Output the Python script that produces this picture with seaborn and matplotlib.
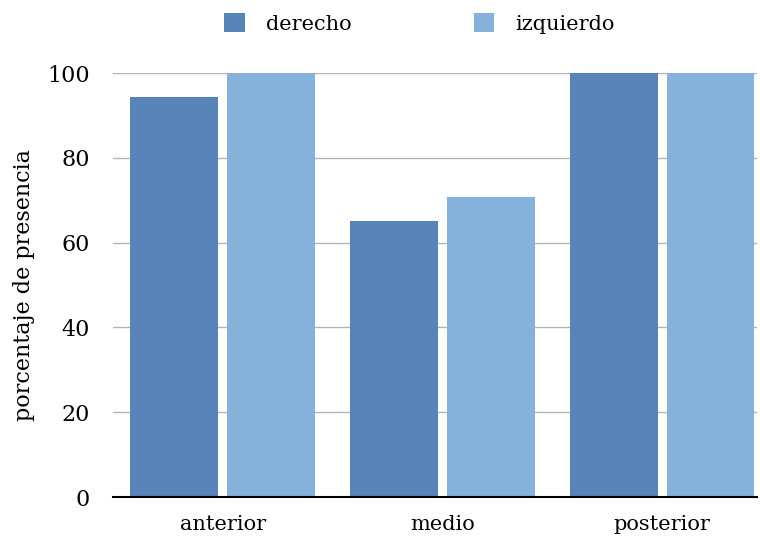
import matplotlib
matplotlib.use("Agg")
import matplotlib.pyplot as plt
from matplotlib.patches import Patch
import seaborn as sns
import pandas as pd

categories = ["anterior", "medio", "posterior"]
derecho = [94.4, 65.1, 100.0]
izquierdo = [100.0, 70.8, 100.0]
series_names = ["derecho", "izquierdo"]
colors = ["#5884BA", "#85B1DA"]
y_ticks = [0, 20, 40, 60, 80, 100]

df = pd.DataFrame({
    "zona": categories * 2,
    "lado": [series_names[0]] * 3 + [series_names[1]] * 3,
    "valor": derecho + izquierdo,
})

sns.set_theme(style="white")
plt.rcParams["font.family"] = ["DejaVu Serif"]
plt.rcParams["text.color"] = "black"
plt.rcParams["axes.labelcolor"] = "black"
plt.rcParams["xtick.color"] = "black"
plt.rcParams["ytick.color"] = "black"

fig = plt.figure(figsize=(7.6, 5.38), dpi=100)
ax = fig.add_axes([0.149, 0.0762, 0.847, 0.788])

sns.barplot(data=df, x="zona", y="valor", hue="lado", palette=colors,
            width=0.88, gap=0.093, saturation=1, ax=ax, legend=False,
            errorbar=None, edgecolor="none", linewidth=0, zorder=2)

ax.set_ylim(0, 100)
ax.set_xlim(-0.498, 2.432)
ax.set_yticks(y_ticks)
ax.set_yticklabels([str(t) for t in y_ticks], fontsize=16)
ax.tick_params(axis="x", labelsize=15, length=0, pad=13)
ax.tick_params(axis="y", length=0, pad=17)
ax.yaxis.grid(True, color="#b4b4b4", linewidth=1, zorder=0)
ax.set_axisbelow(True)
for side in ["left", "right", "top"]:
    ax.spines[side].set_visible(False)
ax.spines["bottom"].set_color("black")
ax.spines["bottom"].set_linewidth(1.5)
ax.spines["bottom"].set_zorder(3)
ax.set_xlabel("")
ax.set_ylabel("porcentaje de presencia", fontsize=16, labelpad=9)

handles = [Patch(facecolor=c, edgecolor="none") for c in colors]
fig.legend(handles, series_names, loc="upper center", bbox_to_anchor=(0.552, 1.01),
           ncol=2, frameon=False, fontsize=15, handlelength=1.0, handleheight=1.0,
           handletextpad=1.0, columnspacing=5.85)

fig.savefig("out.png", dpi=100)
